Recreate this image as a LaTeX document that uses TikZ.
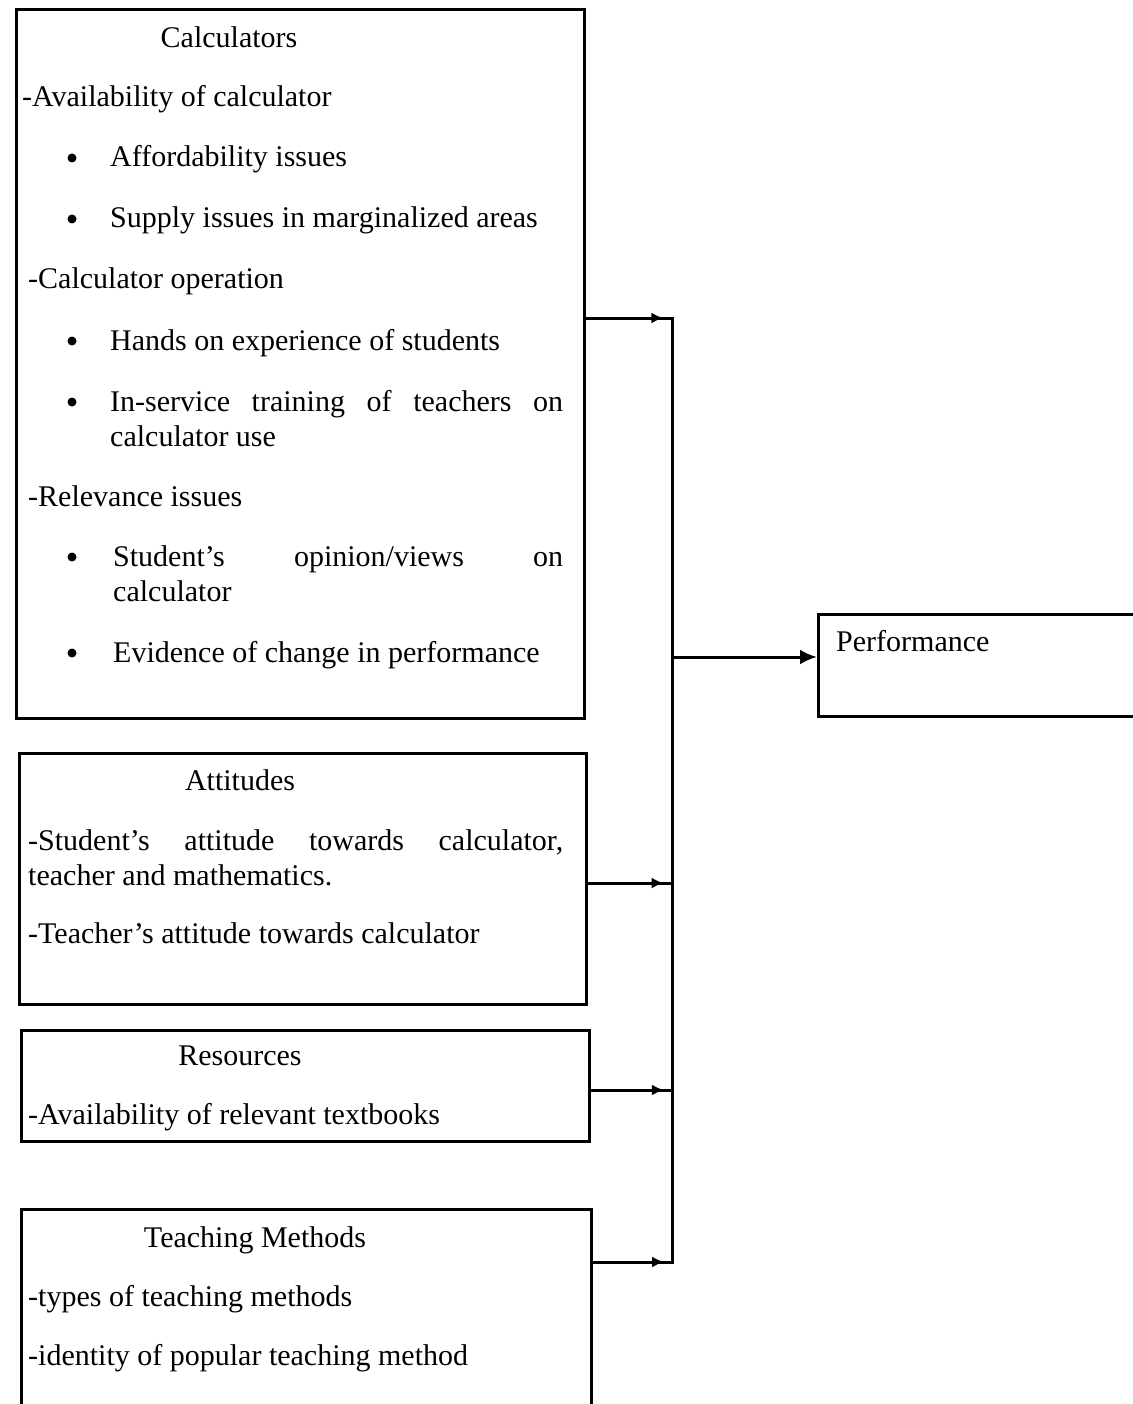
\documentclass[tikz,border=0pt]{standalone}
\usepackage{fontspec}
\setmainfont{Liberation Serif}
\usepackage{tikz}
\usetikzlibrary{arrows.meta}
\usetikzlibrary{decorations.markings}

\tikzset{
  frame/.style={draw, line width=2.8pt, inner sep=0pt, anchor=north west},
  txt/.style={anchor=base west, inner sep=0pt, font=\fontsize{30}{35}\selectfont},
  head/.style={anchor=base, inner sep=0pt, font=\fontsize{30}{35}\selectfont},
  dot/.style={circle, fill=black, inner sep=0pt, minimum size=9pt},
  wire/.style={line width=3pt},
  branch/.style={line width=3pt, decoration={markings,
    mark=at position 0.9 with {\arrow{Latex[length=12pt,width=11pt]}}},
    postaction={decorate}}
}

\begin{document}
\begin{tikzpicture}[x=1pt,y=-1pt]
\useasboundingbox (0,0) rectangle (1132,1404);
% boxes
\node[frame, minimum width=568pt, minimum height=709pt] (calc) at (15,8) {};
\node[frame, minimum width=567pt, minimum height=251pt] (att) at (18,752) {};
\node[frame, minimum width=568pt, minimum height=111pt] (res) at (20,1029) {};
\node[frame, minimum width=570pt, minimum height=230pt] (teach) at (20,1208) {};
\node[frame, minimum width=340pt, minimum height=102pt] (perf) at (817,613) {};
% calculators
\node[head] (calcT) at (229,48) {Calculators};
\node[txt] (avail) at (22,107) {-Availability of calculator};
\node[txt] (afford) at (110,167) {Affordability issues};
\node[txt] (supply) at (110,228) {Supply issues in marginalized areas};
\node[txt] (oper) at (28,289) {-Calculator operation};
\node[txt] (hands) at (110,350) {Hands on experience of students};
\node[txt] (inserv) at (110,411) {\makebox[453pt][s]{In-service training of teachers on}};
\node[txt] (inservB) at (110,446) {calculator use};
\node[txt] (relev) at (28,506) {-Relevance issues};
\node[txt] (opin) at (113,566) {\makebox[450pt][s]{Student's opinion/views on}};
\node[txt] (opinB) at (113,601) {calculator};
\node[txt] (evid) at (113,662) {Evidence of change in performance};
% bullets
\foreach \y/\n in {167/d1,228/d2,350/d3,411/d4,566/d5,662/d6}
  \node[dot] (\n) at (72,\y-9) {};
% attitudes
\node[head] (attT) at (240,790) {Attitudes};
\node[txt] (stud) at (28,850) {\makebox[535pt][s]{-Student's attitude towards calculator,}};
\node[txt] (studB) at (28,885) {teacher and mathematics.};
\node[txt] (tchr) at (28,943) {-Teacher's attitude towards calculator};
% resources
\node[head] (resT) at (240,1065) {Resources};
\node[txt] (books) at (28,1124) {-Availability of relevant textbooks};
% teaching methods
\node[head] (teachT) at (255,1247) {Teaching Methods};
\node[txt] (types) at (28,1306) {-types of teaching methods};
\node[txt] (ident) at (28,1365) {-identity of popular teaching method};
% performance
\node[txt] (perfT) at (836,651) {Performance};
% connectors
\coordinate (j1) at (672,318);
\coordinate (j2) at (672,883);
\coordinate (j3) at (672,1090);
\coordinate (j4) at (672,1262);
\coordinate (jp) at (672,657);
\draw[branch] (calc.east |- j1) -- (j1);
\draw[branch] (att.east |- j2) -- (j2);
\draw[branch] (res.east |- j3) -- (j3);
\draw[branch] (teach.east |- j4) -- (j4);
\draw[wire] ([yshift=1.5pt]j1) -- ([yshift=-1.5pt]j4);
\draw[wire, -{Latex[length=17pt,width=15pt]}] (jp) -- (perf.west |- jp);
\end{tikzpicture}
\end{document}
